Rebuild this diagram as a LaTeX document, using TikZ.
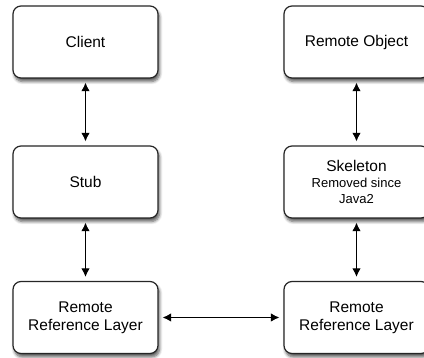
\documentclass[tikz,border=0pt]{standalone}
\usepackage{fontspec}
\setmainfont{Liberation Sans}
\usetikzlibrary{arrows.meta,shadows.blur}

\tikzset{
  layerbox/.style={
    draw=black!85, line width=1.2pt, fill=white, rounded corners=8pt,
    minimum width=145pt, minimum height=72pt, align=center,
    font=\fontsize{15.5}{18}\selectfont,
    blur shadow={shadow xshift=1.5pt, shadow yshift=-3.5pt,
                 shadow blur steps=6, shadow blur radius=3pt, shadow opacity=65}
  },
  link/.style={
    line width=1.2pt, {Latex[length=8.5pt,width=8.5pt]}-{Latex[length=8.5pt,width=8.5pt]},
    shorten <=4pt, shorten >=4pt
  },
  note/.style={font=\fontsize{13}{15.5}\selectfont}
}

\begin{document}
\begin{tikzpicture}[x=1pt,y=1pt]
  \useasboundingbox (0,0) rectangle (424,358);

  % client side
  \node[layerbox] (client) at (85.5,316) {Client};
  \node[layerbox] (stub)   at (85.5,176) {Stub};
  \node[layerbox] (rrlL)   at (85.5,40.5) {Remote\\Reference Layer};

  % server side
  \node[layerbox] (robj)   at (356.5,316) {Remote Object};
  \node[layerbox] (skel)   at (356.5,176)
    {Skeleton\\[-2pt]{\fontsize{13}{15.5}\selectfont Removed since}\\[-2pt]{\fontsize{13}{15.5}\selectfont Java2}};
  \node[layerbox] (rrlR)   at (356.5,40.5) {Remote\\Reference Layer};

  % connections between layers
  \draw[link] (client) -- (stub);
  \draw[link] (stub) -- (rrlL);
  \draw[link] (robj) -- (skel);
  \draw[link] (skel) -- (rrlR);
  \draw[link] (rrlL) -- (rrlR);
\end{tikzpicture}
\end{document}
